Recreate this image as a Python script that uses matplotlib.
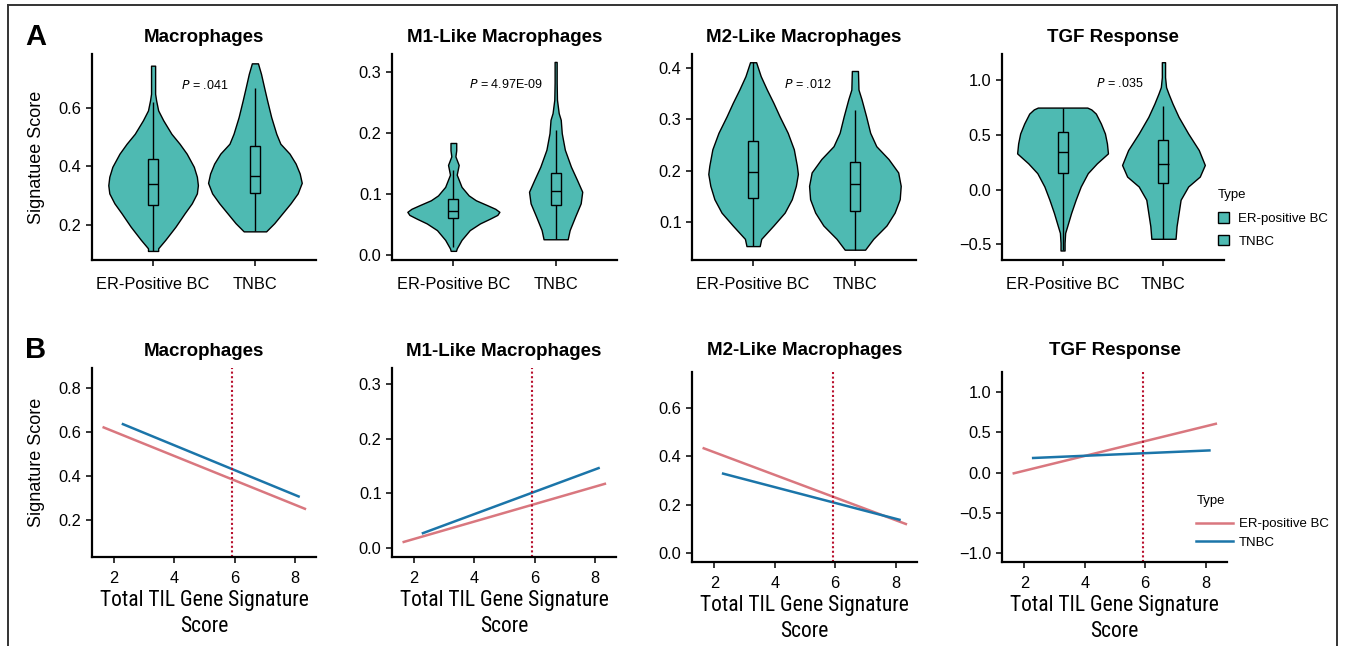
import matplotlib
matplotlib.use("Agg")
import matplotlib.pyplot as plt
from matplotlib.patches import Patch, Rectangle
from matplotlib.lines import Line2D

plt.rcParams['font.family'] = ['Liberation Sans', 'DejaVu Sans']
plt.rcParams['axes.unicode_minus'] = True

W, H = 1346, 646

titles = ['Macrophages', 'M1-Like Macrophages', 'M2-Like Macrophages', 'TGF Response']
groups = ['ER-Positive BC', 'TNBC']
legend_labels = ['ER-positive BC', 'TNBC']
p_values = ['.041', '4.97E-09', '.012', '.035']
p_pos = [(0.51, 0.678), (0.51, 0.280), (0.54, 0.368), (0.57, 0.97)]

# violin outlines: score levels and half widths (category units)
mac_er_y = [0.745, 0.649, 0.626, 0.592, 0.558, 0.512, 0.478, 0.444, 0.399, 0.365, 0.336, 0.308, 0.274, 0.240, 0.194, 0.149, 0.120, 0.111]
mac_er_w = [0.02, 0.02, 0.03, 0.05, 0.10, 0.18, 0.26, 0.33, 0.40, 0.43, 0.44, 0.43, 0.38, 0.31, 0.22, 0.12, 0.05, 0.05]
mac_tn_y = [0.753, 0.717, 0.671, 0.626, 0.569, 0.512, 0.478, 0.444, 0.410, 0.376, 0.344, 0.308, 0.274, 0.240, 0.206, 0.178]
mac_tn_w = [0.03, 0.06, 0.09, 0.12, 0.16, 0.21, 0.25, 0.34, 0.40, 0.44, 0.46, 0.42, 0.35, 0.27, 0.19, 0.11]

m1_er_y = [0.184, 0.172, 0.162, 0.148, 0.132, 0.112, 0.098, 0.090, 0.082, 0.076, 0.071, 0.066, 0.060, 0.052, 0.041, 0.025, 0.011, 0.007]
m1_er_w = [0.028, 0.028, 0.02, 0.052, 0.033, 0.08, 0.15, 0.22, 0.33, 0.41, 0.45, 0.43, 0.36, 0.26, 0.16, 0.08, 0.033, 0.026]
m1_tn_y = [0.317, 0.283, 0.255, 0.233, 0.222, 0.200, 0.173, 0.145, 0.123, 0.104, 0.085, 0.063, 0.041, 0.026]
m1_tn_w = [0.01, 0.01, 0.013, 0.03, 0.05, 0.06, 0.09, 0.15, 0.21, 0.26, 0.245, 0.19, 0.137, 0.118]

m2_er_y = [0.411, 0.384, 0.358, 0.332, 0.306, 0.274, 0.242, 0.210, 0.194, 0.171, 0.145, 0.119, 0.094, 0.068, 0.054]
m2_er_w = [0.03, 0.075, 0.135, 0.20, 0.26, 0.34, 0.40, 0.43, 0.44, 0.42, 0.38, 0.31, 0.20, 0.08, 0.065]
m2_tn_y = [0.394, 0.358, 0.339, 0.306, 0.274, 0.248, 0.223, 0.197, 0.171, 0.145, 0.119, 0.094, 0.068, 0.047]
m2_tn_w = [0.03, 0.035, 0.065, 0.11, 0.15, 0.21, 0.33, 0.425, 0.45, 0.44, 0.39, 0.31, 0.18, 0.10]

tgf_er_y = [0.752, 0.735, 0.697, 0.606, 0.515, 0.424, 0.333, 0.242, 0.152, 0.030, -0.091, -0.212, -0.333, -0.394, -0.485, -0.555]
tgf_er_w = [0.245, 0.285, 0.33, 0.38, 0.42, 0.44, 0.45, 0.34, 0.25, 0.18, 0.13, 0.085, 0.046, 0.026, 0.02, 0.02]
tgf_tn_y = [1.167, 1.03, 0.939, 0.879, 0.788, 0.667, 0.515, 0.364, 0.227, 0.121, 0.030, -0.091, -0.212, -0.333, -0.448]
tgf_tn_w = [0.016, 0.016, 0.026, 0.05, 0.09, 0.15, 0.245, 0.35, 0.41, 0.36, 0.245, 0.17, 0.15, 0.13, 0.12]

# box stats: whisker low, q1, median, q3, whisker high
mac_box = [(0.111, 0.269, 0.340, 0.424, 0.621), (0.178, 0.309, 0.367, 0.471, 0.669)]
m1_box = [(0.014, 0.061, 0.073, 0.092, 0.140), (0.026, 0.082, 0.106, 0.135, 0.205)]
m2_box = [(0.054, 0.148, 0.198, 0.258, 0.411), (0.047, 0.122, 0.174, 0.217, 0.319)]
tgf_box = [(-0.555, 0.158, 0.342, 0.530, 0.752), (-0.448, 0.061, 0.239, 0.452, 0.770)]

violins = [
    [(mac_er_y, mac_er_w), (mac_tn_y, mac_tn_w)],
    [(m1_er_y, m1_er_w), (m1_tn_y, m1_tn_w)],
    [(m2_er_y, m2_er_w), (m2_tn_y, m2_tn_w)],
    [(tgf_er_y, tgf_er_w), (tgf_tn_y, tgf_tn_w)],
]
boxes = [mac_box, m1_box, m2_box, tgf_box]
a_ylims = [(0.08, 0.785), (-0.008, 0.330), (0.027, 0.427), (-0.642, 1.242)]
a_yticks = [[0.2, 0.4, 0.6], [0.0, 0.1, 0.2, 0.3], [0.1, 0.2, 0.3, 0.4], [-0.5, 0.0, 0.5, 1.0]]

# panel B fitted lines
er_x = [1.61, 8.38]
tn_x = [2.25, 8.17]
er_lines = [[0.624, 0.250], [0.010, 0.118], [0.434, 0.118], [-0.012, 0.609]]
tn_lines = [[0.639, 0.306], [0.026, 0.147], [0.329, 0.136], [0.181, 0.276]]
cutoff = 5.93
b_ylims = [(0.033, 0.892), (-0.017, 0.330), (-0.037, 0.747), (-1.107, 1.247)]
b_yticks = [[0.2, 0.4, 0.6, 0.8], [0.0, 0.1, 0.2, 0.3], [0.0, 0.2, 0.4, 0.6], [-1.0, -0.5, 0.0, 0.5, 1.0]]

teal = '#4EBAB2'
red = '#D9777F'
blue = '#1B75A9'
dot_red = '#B8102E'

a_rects = [(92, 54, 316, 260), (392, 54, 617, 260), (692, 54, 916, 260), (1002, 54, 1224, 260)]
b_rects = [(92, 368, 316, 557), (392, 368, 616, 557), (692, 372, 917, 562), (1002, 372, 1227, 562)]
b_title_pad = [9, 9, 12, 12]


def rect(l, t, r, b):
    return [l / W, 1 - b / H, (r - l) / W, (b - t) / H]


def style(ax):
    for s in ['top', 'right']:
        ax.spines[s].set_visible(False)
    for s in ['left', 'bottom']:
        ax.spines[s].set_linewidth(1.6)
        ax.spines[s].set_color('black')
    ax.tick_params(length=4, width=1.1, colors='black', labelsize=11.8)


fig = plt.figure(figsize=(W / 100, H / 100), dpi=100)

for i in range(4):
    ax = fig.add_axes(rect(*a_rects[i]))
    style(ax)
    for k in range(2):
        ys, ws = violins[i][k]
        ax.fill_betweenx(ys, [k - w for w in ws], [k + w for w in ws],
                         facecolor=teal, edgecolor='black', linewidth=1.0, zorder=2)
        lo, q1, med, q3, hi = boxes[i][k]
        ax.vlines(k, lo, q1, color='black', lw=1.0, zorder=3)
        ax.vlines(k, q3, hi, color='black', lw=1.0, zorder=3)
        ax.add_patch(Rectangle((k - 0.05, q1), 0.1, q3 - q1, facecolor='none',
                               edgecolor='black', lw=1.0, zorder=3))
        ax.hlines(med, k - 0.05, k + 0.05, color='black', lw=1.0, zorder=3)
    ax.set_xlim(-0.6, 1.6)
    ax.set_ylim(*a_ylims[i])
    ax.set_yticks(a_yticks[i])
    ax.set_xticks([0, 1])
    ax.set_xticklabels(groups)
    ax.tick_params(axis='x', pad=8.5)
    ax.set_title(titles[i], fontsize=13.5, fontweight='bold', pad=9)
    ax.text(p_pos[i][0], p_pos[i][1], r'$\it{P}$ = ' + p_values[i], fontsize=9,
            ha='center', va='center')
    if i == 0:
        ax.set_ylabel('Signatuee Score', fontsize=13)
        ax.yaxis.set_label_coords(-0.21, 0.5)

for i in range(4):
    ax = fig.add_axes(rect(*b_rects[i]))
    style(ax)
    ax.plot(er_x, er_lines[i], color=red, lw=1.8, solid_capstyle='butt')
    ax.plot(tn_x, tn_lines[i], color=blue, lw=1.8, solid_capstyle='butt')
    ax.axvline(cutoff, color=dot_red, lw=1.5, ls=(0, (1, 1.2)))
    ax.set_xlim(1.26, 8.71)
    ax.set_ylim(*b_ylims[i])
    ax.set_yticks(b_yticks[i])
    ax.set_xticks([2, 4, 6, 8])
    ax.tick_params(axis='x', pad=6)
    ax.set_title(titles[i], fontsize=13.5, fontweight='bold', pad=b_title_pad[i])
    ax.set_xlabel('Total TIL Gene Signature\nScore', fontsize=15.5, linespacing=1.3,
                  family=['Roboto Condensed', 'Liberation Sans Narrow', 'Liberation Sans'],
                  fontstretch='condensed', labelpad=3)
    if i == 0:
        ax.set_ylabel('Signature Score', fontsize=13)
        ax.yaxis.set_label_coords(-0.21, 0.5)

fig.text(25 / W, 1 - 45 / H, 'A', fontsize=21, fontweight='bold')
fig.text(25 / W, 1 - 358 / H, 'B', fontsize=21, fontweight='bold')

fig.text(1218 / W, 1 - 195 / H, 'Type', fontsize=9.5, va='center')
leg_a = [Patch(facecolor=teal, edgecolor='black', lw=1.0) for _ in range(2)]
fig.legend(leg_a, legend_labels, loc='upper left',
           bbox_to_anchor=(1218 / W, 1 - 212 / H), frameon=False, fontsize=9.5,
           borderpad=0, borderaxespad=0,
           handlelength=0.85, handleheight=0.85, handletextpad=0.7, labelspacing=0.76)

fig.text(1197 / W, 1 - 501 / H, 'Type', fontsize=9.5, va='center')
leg_b = [Line2D([], [], color=red, lw=1.8), Line2D([], [], color=blue, lw=1.8)]
fig.legend(leg_b, legend_labels, loc='upper left',
           bbox_to_anchor=(1196 / W, 1 - 518 / H), frameon=False, fontsize=9.5,
           borderpad=0, borderaxespad=0,
           handlelength=2.8, handletextpad=0.45, labelspacing=0.5)

# frame around the figure
fig.add_artist(Line2D([8 / W, 1337 / W], [1 - 5 / H, 1 - 5 / H], color='#333333', lw=1.4))
fig.add_artist(Line2D([8 / W, 8 / W], [0, 1 - 5 / H], color='#333333', lw=1.4))
fig.add_artist(Line2D([1337 / W, 1337 / W], [0, 1 - 5 / H], color='#333333', lw=1.4))

fig.savefig('out.png', dpi=100)
